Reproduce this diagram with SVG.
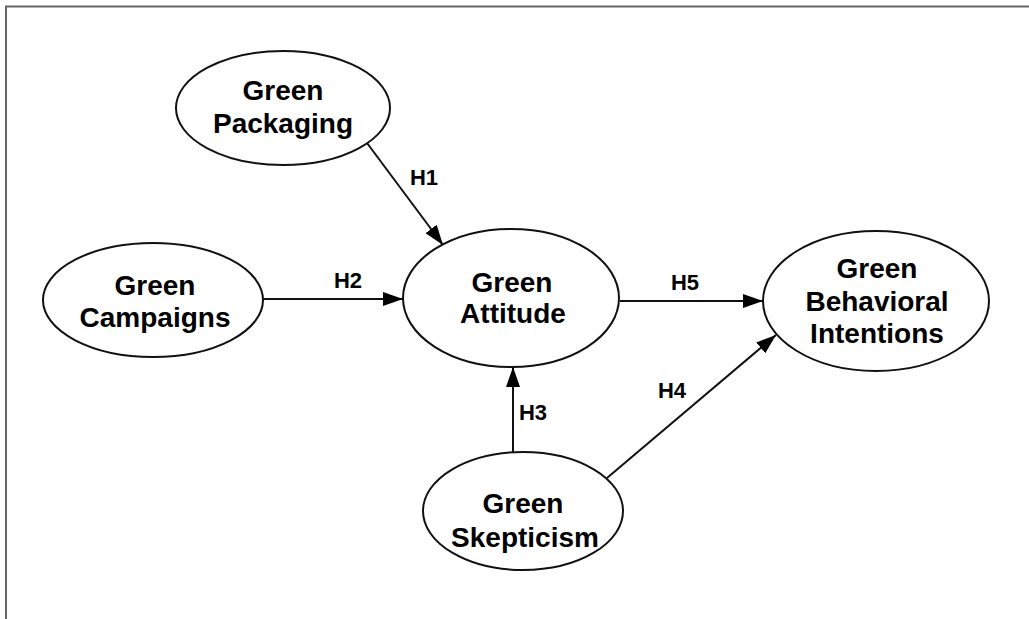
<svg xmlns="http://www.w3.org/2000/svg" width="1029" height="619" viewBox="0 0 1029 619">
<style>
.node ellipse{fill:#fff;stroke:#111;stroke-width:2}
.node text{font-family:"Liberation Sans",Arial,sans-serif;font-weight:bold;font-size:28px;fill:#000;text-anchor:middle}
.edge{stroke:#111;stroke-width:2;fill:none;marker-end:url(#arr)}
.lbl{font-family:"Liberation Sans",Arial,sans-serif;font-weight:bold;font-size:22px;fill:#000;text-anchor:middle}
</style>
<defs>
<marker id="arr" viewBox="0 0 20 14" refX="20" refY="7" markerWidth="20" markerHeight="14" markerUnits="userSpaceOnUse" orient="auto">
<path d="M0,0 L20,7 L0,14 Z" fill="#000"/>
</marker>
</defs>
<rect x="0" y="0" width="1029" height="619" fill="#fff"/>
<rect x="6" y="6.5" width="1040" height="640" fill="none" stroke="#666" stroke-width="2"/>
<g id="connectors">
<line class="edge" x1="367" y1="143" x2="443" y2="245"/>
<line class="edge" x1="263" y1="299" x2="403" y2="299"/>
<line class="edge" x1="620" y1="301" x2="763" y2="301"/>
<line class="edge" x1="513" y1="452" x2="513" y2="367"/>
<line class="edge" x1="607" y1="478" x2="776" y2="335"/>
<text class="lbl" x="424" y="185">H1</text>
<text class="lbl" x="348" y="288">H2</text>
<text class="lbl" x="685" y="290">H5</text>
<text class="lbl" x="533" y="420">H3</text>
<text class="lbl" x="672" y="398">H4</text>
</g>
<g id="packaging" class="node">
<ellipse cx="283" cy="108" rx="107" ry="57"/>
<text x="283" y="100">Green</text>
<text x="283" y="133">Packaging</text>
</g>
<g id="campaigns" class="node">
<ellipse cx="153" cy="300" rx="110" ry="57"/>
<text x="155" y="295">Green</text>
<text x="155" y="327">Campaigns</text>
</g>
<g id="attitude" class="node">
<ellipse cx="511" cy="298" rx="108" ry="69"/>
<text x="512" y="292">Green</text>
<text x="513" y="323">Attitude</text>
</g>
<g id="intentions" class="node">
<ellipse cx="876" cy="301" rx="113" ry="70"/>
<text x="877" y="278">Green</text>
<text x="877" y="311">Behavioral</text>
<text x="877" y="343">Intentions</text>
</g>
<g id="skepticism" class="node">
<ellipse cx="523" cy="511" rx="100" ry="59"/>
<text x="523" y="513">Green</text>
<text x="525" y="547">Skepticism</text>
</g>
</svg>
